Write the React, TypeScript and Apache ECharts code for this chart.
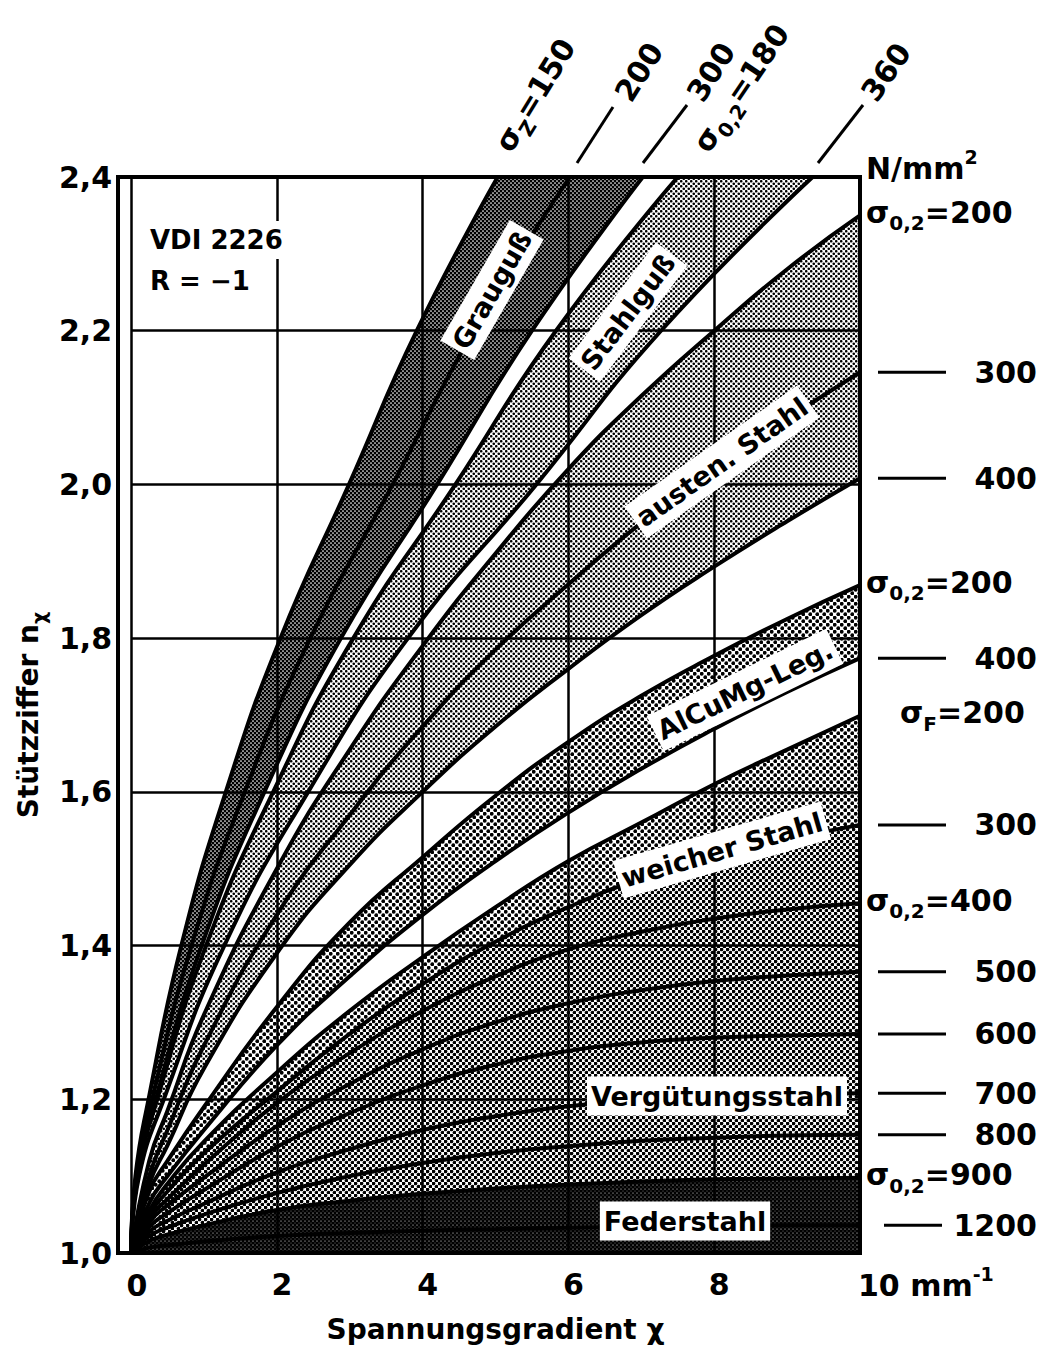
import React, { useEffect, useRef } from 'react';
import * as echarts from 'echarts';

const FONT = '"DejaVu Sans", "Liberation Sans", sans-serif';

// axis ranges
const xMin = 0, xMax = 10, xStep = 2;
const yMin = 1.0, yMax = 2.4, yStep = 0.2;
const xUnitLabel = 'mm';

// χ positions (mm^-1) at which the lower curve families were read
const chiGrid = [0, 0.25, 0.5, 1, 2, 3, 4, 5, 6, 7, 8, 9, 10];

// Grauguß (σZ) and Stahlguß (σ0,2) curves leave through the top edge: [χ, nχ]
const grauguss150 = [[0, 1], [0.06, 1.1], [0.24, 1.2], [0.69, 1.4], [1.3, 1.6], [2.05, 1.8], [2.99, 2.0], [3.92, 2.2], [5.03, 2.4]];
const grauguss200 = [[0, 1], [0.07, 1.1], [0.29, 1.2], [0.83, 1.4], [1.56, 1.6], [2.46, 1.8], [3.59, 2.0], [4.7, 2.2], [6.02, 2.4]];
const grauguss300 = [[0, 1], [0.08, 1.1], [0.34, 1.2], [0.97, 1.4], [1.83, 1.6], [2.88, 1.8], [4.2, 2.0], [5.5, 2.2], [7.02, 2.4]];
const stahlguss180 = [[0, 1], [0.09, 1.1], [0.36, 1.2], [1.03, 1.4], [1.95, 1.6], [3.05, 1.8], [4.45, 2.0], [5.83, 2.2], [7.5, 2.4]];
const stahlguss360 = [[0, 1], [0.11, 1.1], [0.45, 1.2], [1.28, 1.4], [2.43, 1.6], [3.8, 1.8], [5.56, 2.0], [7.27, 2.2], [9.35, 2.4]];

// nχ values at chiGrid
const austen200 = [1, 1.12, 1.185, 1.31, 1.50, 1.655, 1.79, 1.91, 2.02, 2.115, 2.20, 2.28, 2.35];
const austen300 = [1, 1.10, 1.16, 1.27, 1.44, 1.57, 1.685, 1.785, 1.87, 1.95, 2.02, 2.085, 2.146];
const austen400 = [1, 1.09, 1.14, 1.24, 1.39, 1.505, 1.60, 1.685, 1.76, 1.83, 1.893, 1.952, 2.008];
const alcumg200 = [1, 1.08, 1.12, 1.19, 1.32, 1.43, 1.515, 1.595, 1.665, 1.725, 1.777, 1.825, 1.869];
const alcumg400 = [1, 1.065, 1.10, 1.16, 1.27, 1.36, 1.44, 1.51, 1.573, 1.63, 1.682, 1.73, 1.774];
const weich200 = [1, 1.055, 1.09, 1.145, 1.235, 1.315, 1.385, 1.45, 1.51, 1.56, 1.61, 1.655, 1.699];
const weich300 = [1, 1.05, 1.08, 1.13, 1.21, 1.285, 1.35, 1.405, 1.45, 1.487, 1.515, 1.538, 1.557];
const verg400 = [1, 1.045, 1.07, 1.115, 1.195, 1.26, 1.315, 1.36, 1.395, 1.418, 1.435, 1.447, 1.455];
const verg500 = [1, 1.04, 1.062, 1.098, 1.165, 1.22, 1.265, 1.30, 1.325, 1.342, 1.354, 1.361, 1.366];
const verg600 = [1, 1.034, 1.052, 1.082, 1.138, 1.182, 1.218, 1.245, 1.263, 1.274, 1.28, 1.283, 1.285];
const verg700 = [1, 1.028, 1.042, 1.064, 1.105, 1.135, 1.16, 1.178, 1.191, 1.20, 1.205, 1.207, 1.208];
const verg800 = [1, 1.022, 1.033, 1.05, 1.078, 1.10, 1.117, 1.13, 1.139, 1.146, 1.15, 1.153, 1.154];
const verg900 = [1, 1.016, 1.024, 1.036, 1.056, 1.068, 1.077, 1.084, 1.089, 1.093, 1.096, 1.097, 1.098];
const feder1200 = [1, 1.007, 1.01, 1.015, 1.022, 1.026, 1.029, 1.031, 1.033, 1.034, 1.035, 1.036, 1.036];
const baseline = [1, 1];

// right-hand strength labels (N/mm²)
const rightLabels = [
  { curve: austen200, sub: '0,2', num: '200' },
  { curve: austen300, sub: null, num: '300' },
  { curve: austen400, sub: null, num: '400' },
  { curve: alcumg200, sub: '0,2', num: '200' },
  { curve: alcumg400, sub: null, num: '400' },
  { curve: weich200, sub: 'F', num: '200' },
  { curve: weich300, sub: null, num: '300' },
  { curve: verg400, sub: '0,2', num: '400' },
  { curve: verg500, sub: null, num: '500' },
  { curve: verg600, sub: null, num: '600' },
  { curve: verg700, sub: null, num: '700' },
  { curve: verg800, sub: null, num: '800' },
  { curve: verg900, sub: '0,2', num: '900' },
  { curve: feder1200, sub: null, num: '1200' },
];

const P = (ys: number[]) => chiGrid.map((x, i) => [x, ys[i]]);

function makePattern(size: number, bg: string, dots: number[][], dotColor: string) {
  const c = document.createElement('canvas');
  c.width = size;
  c.height = size;
  const ctx = c.getContext('2d')!;
  ctx.fillStyle = bg;
  ctx.fillRect(0, 0, size, size);
  ctx.fillStyle = dotColor;
  dots.forEach(([x, y, r]) => {
    ctx.beginPath();
    ctx.arc(x, y, r, 0, Math.PI * 2);
    ctx.fill();
  });
  return { image: c, repeat: 'repeat', imageWidth: size, imageHeight: size } as any;
}

const richSet = (size: number) => ({
  a: { fontSize: size, fontWeight: 'bold', fontFamily: FONT, fill: '#000', lineHeight: size + 12, verticalAlign: 'middle' },
  s: { fontSize: Math.round(size * 0.66), fontWeight: 'bold', fontFamily: FONT, fill: '#000', lineHeight: Math.round(size * 0.66), verticalAlign: 'bottom' },
  u: { fontSize: Math.round(size * 0.62), fontWeight: 'bold', fontFamily: FONT, fill: '#000', lineHeight: Math.round(size * 0.62), verticalAlign: 'top' },
});

export default function App() {
  const ref = useRef<HTMLDivElement>(null);
  useEffect(() => {
    document.body.style.margin = '0';
    const el = ref.current!;
    const chart = echarts.init(el, null, { renderer: 'svg' });

    const patLight = makePattern(5, '#fff', [[1.25, 1.25, 1.3], [3.75, 3.75, 1.3]], '#000');
    const patMed = makePattern(7, '#fff', [[1.75, 1.75, 1.9], [5.25, 5.25, 1.9]], '#000');
    const patVerg = makePattern(6, '#fff', [[1.5, 1.5, 1.85], [4.5, 4.5, 1.85]], '#000');
    const patGrau = makePattern(4, '#000', [[1, 1, 0.85], [3, 3, 0.85]], '#fff');
    const patFeder = makePattern(4, '#000', [[1, 1, 0.55], [3, 3, 0.4]], '#fff');

    const areaDefs: [any[], any][] = [
      [[[0, baseline[0]], [10, baseline[1]]], patFeder],
      [P(verg900), patVerg],
      [P(weich300), patMed],
      [P(weich200), '#fff'],
      [P(alcumg400), patMed],
      [P(alcumg200), '#fff'],
      [P(austen400), patLight],
      [P(austen200), '#fff'],
      [stahlguss360, patLight],
      [stahlguss180, '#fff'],
      [grauguss300, patGrau],
      [grauguss150, '#fff'],
    ];
    const lineDefs: any[][] = [
      grauguss150, grauguss200, grauguss300, stahlguss180, stahlguss360,
      P(austen200), P(austen300), P(austen400), P(alcumg200), P(alcumg400),
      P(weich200), P(weich300), P(verg400), P(verg500), P(verg600), P(verg700),
      P(verg800), P(verg900), P(feder1200),
    ];
    const SM = 0.5;
    const series: any[] = [];
    areaDefs.forEach(([data, fill]) => {
      series.push({
        type: 'line', data, smooth: SM, symbol: 'none', silent: true, z: 2,
        lineStyle: { width: 0, opacity: 0 },
        areaStyle: { color: fill, opacity: 1, origin: 'end' },
      });
    });
    lineDefs.forEach((data) => {
      series.push({
        type: 'line', data, smooth: SM, symbol: 'none', silent: true, z: 4,
        lineStyle: { color: '#000', width: 4 },
      });
    });

    const baseText = { fontSize: 30, fontWeight: 'bold', fontFamily: FONT, color: '#000' };
    chart.setOption({
      animation: false,
      backgroundColor: '#fff',
      grid: { left: 118, top: 177, width: 742, height: 1076, show: false },
      xAxis: {
        type: 'value', min: xMin, max: xMax, interval: xStep, z: 3,
        axisLine: { show: false }, axisTick: { show: false },
        splitLine: { show: true, lineStyle: { color: '#000', width: 2.5 } },
        axisLabel: {
          margin: 10, interval: 0, showMinLabel: false, showMaxLabel: false,
          formatter: (v: number) => (v === xMax || v === xMin ? '' : `{n|${v}}`),
          rich: {
            n: { ...baseText, padding: [0, 0, 0, 10], lineHeight: 42, verticalAlign: 'middle' },
          },
        },
        name: 'Spannungsgradient χ', nameLocation: 'middle', nameGap: 62,
        nameTextStyle: { ...baseText, fontSize: 28 },
      },
      yAxis: {
        type: 'value', min: yMin, max: yMax, interval: yStep, z: 3,
        axisLine: { show: false }, axisTick: { show: false },
        splitLine: { show: true, lineStyle: { color: '#000', width: 2.5 } },
        axisLabel: { ...baseText, margin: 19, formatter: (v: number) => v.toFixed(1).replace('.', ',') },
        name: 'Stützziffer n{sub|χ}', nameLocation: 'middle', nameGap: 70, nameRotate: 90,
        nameTextStyle: {
          ...baseText, fontSize: 28, lineHeight: 40,
          rich: { sub: { ...baseText, fontSize: 19, lineHeight: 19, verticalAlign: 'bottom' } },
        },
      },
      series,
    });

    // annotations
    const g: any[] = [];
    const txt = (x: number, y: number, text: string, o: any = {}) => {
      const size = o.size || 30;
      g.push({
        type: 'text', x, y, z: 100, rotation: ((o.rot || 0) * Math.PI) / 180,
        style: {
          text, rich: richSet(size), fill: '#000',
          fontSize: size, fontWeight: 'bold', fontFamily: FONT,
          align: o.align || 'left', verticalAlign: 'middle',
          backgroundColor: o.bg, padding: o.pad,
        },
      });
    };
    const seg = (x1: number, y1: number, x2: number, y2: number, w = 3) => {
      g.push({ type: 'line', z: 100, shape: { x1, y1, x2, y2 }, style: { stroke: '#000', lineWidth: w } });
    };

    // frame
    g.push({ type: 'rect', z: 90, shape: { x: 118, y: 177, width: 742, height: 1076 }, style: { fill: 'none', stroke: '#000', lineWidth: 4 } });

    // first and last x tick labels
    const [zeroX, baseY] = chart.convertToPixel({ gridIndex: 0 }, [xMin, yMin]);
    const tenX = chart.convertToPixel({ gridIndex: 0 }, [xMax, yMin])[0];
    txt(zeroX + 6, baseY + 32, `{a|${xMin}}`, { align: 'center' });
    txt(tenX - 2, baseY + 32, `{a|${xMax} ${xUnitLabel}}{u|-1}`);

    // inside legend text
    txt(148, 240, '{a|VDI 2226}', { size: 26, bg: '#fff', pad: [0, 2] });
    txt(148, 281, '{a|R = −1}', { size: 26, bg: '#fff', pad: [0, 2] });

    // top labels
    txt(535, 95, '{a|σ}{s|Z}{a|=150}', { rot: 58.5, align: 'center' });
    txt(639, 72, '{a|200}', { rot: 58, align: 'center' });
    seg(577, 163, 613, 107);
    txt(711, 72, '{a|300}', { rot: 58, align: 'center' });
    seg(643, 163, 687, 105);
    txt(741, 88, '{a|σ}{s|0,2}{a|=180}', { rot: 56, align: 'center' });
    txt(886, 72, '{a|360}', { rot: 55, align: 'center' });
    seg(818, 163, 863, 105);

    // unit
    txt(866, 168, '{a|N/mm}{u|2}');

    // right-hand labels positioned at curve ends
    rightLabels.forEach((lab) => {
      const yv = lab.curve[lab.curve.length - 1];
      const py = chart.convertToPixel({ gridIndex: 0 }, [10, yv])[1];
      if (lab.sub) {
        const left = lab.sub === 'F' ? 900 : 866;
        txt(left, py - 3, `{a|σ}{s|${lab.sub}}{a|=${lab.num}}`);
      } else {
        if (lab.num === '1200') seg(884, py, 942, py);
        else seg(878, py, 946, py);
        txt(1037, py, `{a|${lab.num}}`, { align: 'right' });
      }
    });

    // band labels (white boxes)
    const band = (x: number, y: number, t: string, rot: number) =>
      txt(x, y, `{a|${t}}`, { size: 27, rot, align: 'center', bg: '#fff', pad: [0, 4] });
    band(492, 290, 'Grauguß', 60);
    band(628, 312, 'Stahlguß', 53);
    band(722, 462, 'austen. Stahl', 35);
    band(745, 690, 'AlCuMg-Leg.', 26);
    band(722, 850, 'weicher Stahl', 16);
    band(717, 1096, 'Vergütungsstahl', 0);
    band(685, 1221, 'Federstahl', 0);

    chart.setOption({ graphic: g });

    return () => chart.dispose();
  }, []);
  return <div ref={ref} style={{ width: 1049, height: 1371 }} />;
}
